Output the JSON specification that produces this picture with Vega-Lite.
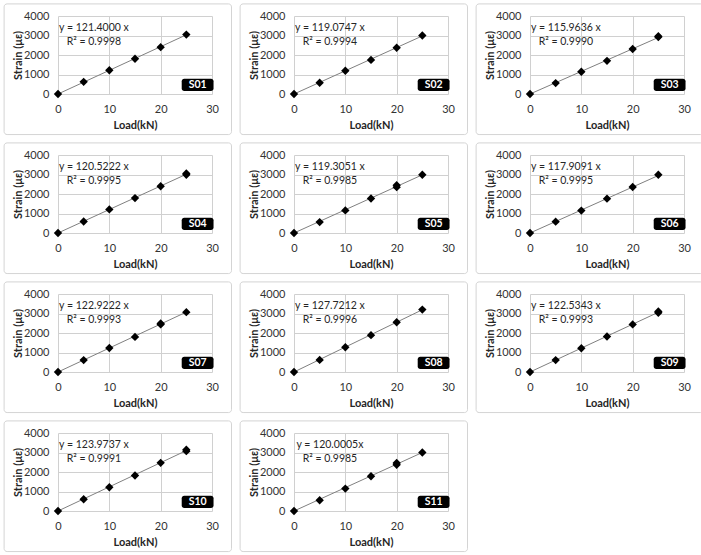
{
  "$schema": "https://vega.github.io/schema/vega-lite/v6.json",
  "background": "white",
  "padding": {"left": 3, "top": 3, "right": 0, "bottom": 0},
  "bounds": "flush",
  "spacing": {"row": 61, "column": 82},
  "columns": 3,
  "data": {"values": [
    {"s":"S01","x":0,"y":0},{"s":"S01","x":5,"y":625},{"s":"S01","x":10,"y":1218},{"s":"S01","x":15,"y":1807},{"s":"S01","x":20,"y":2401},{"s":"S01","x":25,"y":3046},
    {"s":"S01","x":0,"f":0},{"s":"S01","x":25,"f":3035},
    {"s":"S01","eq":"y = 121.4000 x","r2":"R² = 0.9998"},
    {"s":"S02","x":0,"y":0},{"s":"S02","x":5,"y":575},{"s":"S02","x":10,"y":1190},{"s":"S02","x":15,"y":1750},{"s":"S02","x":20,"y":2370},{"s":"S02","x":25,"y":3000},
    {"s":"S02","x":0,"f":0},{"s":"S02","x":25,"f":2977},
    {"s":"S02","eq":"y = 119.0747 x","r2":"R² = 0.9994"},
    {"s":"S03","x":0,"y":0},{"s":"S03","x":5,"y":560},{"s":"S03","x":10,"y":1140},{"s":"S03","x":15,"y":1700},{"s":"S03","x":20,"y":2310},{"s":"S03","x":25,"y":2920},{"s":"S03","x":25,"y":2960},
    {"s":"S03","x":0,"f":0},{"s":"S03","x":25,"f":2899},
    {"s":"S03","eq":"y = 115.9636 x","r2":"R² = 0.9990"},
    {"s":"S04","x":0,"y":0},{"s":"S04","x":5,"y":590},{"s":"S04","x":10,"y":1210},{"s":"S04","x":15,"y":1790},{"s":"S04","x":20,"y":2400},{"s":"S04","x":25,"y":2990},{"s":"S04","x":25,"y":3050},
    {"s":"S04","x":0,"f":0},{"s":"S04","x":25,"f":3013},
    {"s":"S04","eq":"y = 120.5222 x","r2":"R² = 0.9995"},
    {"s":"S05","x":0,"y":0},{"s":"S05","x":5,"y":560},{"s":"S05","x":10,"y":1160},{"s":"S05","x":15,"y":1770},{"s":"S05","x":20,"y":2350},{"s":"S05","x":20,"y":2450},{"s":"S05","x":25,"y":2990},
    {"s":"S05","x":0,"f":0},{"s":"S05","x":25,"f":2983},
    {"s":"S05","eq":"y = 119.3051 x","r2":"R² = 0.9985"},
    {"s":"S06","x":0,"y":0},{"s":"S06","x":5,"y":580},{"s":"S06","x":10,"y":1150},{"s":"S06","x":15,"y":1760},{"s":"S06","x":20,"y":2360},{"s":"S06","x":25,"y":2990},
    {"s":"S06","x":0,"f":0},{"s":"S06","x":25,"f":2948},
    {"s":"S06","eq":"y = 117.9091 x","r2":"R² = 0.9995"},
    {"s":"S07","x":0,"y":0},{"s":"S07","x":5,"y":610},{"s":"S07","x":10,"y":1230},{"s":"S07","x":15,"y":1800},{"s":"S07","x":20,"y":2440},{"s":"S07","x":20,"y":2490},{"s":"S07","x":25,"y":3070},
    {"s":"S07","x":0,"f":0},{"s":"S07","x":25,"f":3073},
    {"s":"S07","eq":"y = 122.9222 x","r2":"R² = 0.9993"},
    {"s":"S08","x":0,"y":0},{"s":"S08","x":5,"y":620},{"s":"S08","x":10,"y":1270},{"s":"S08","x":15,"y":1890},{"s":"S08","x":20,"y":2550},{"s":"S08","x":25,"y":3200},
    {"s":"S08","x":0,"f":0},{"s":"S08","x":25,"f":3193},
    {"s":"S08","eq":"y = 127.7212 x","r2":"R² = 0.9996"},
    {"s":"S09","x":0,"y":0},{"s":"S09","x":5,"y":610},{"s":"S09","x":10,"y":1220},{"s":"S09","x":15,"y":1820},{"s":"S09","x":20,"y":2440},{"s":"S09","x":25,"y":3040},{"s":"S09","x":25,"y":3100},
    {"s":"S09","x":0,"f":0},{"s":"S09","x":25,"f":3063},
    {"s":"S09","eq":"y = 122.5343 x","r2":"R² = 0.9993"},
    {"s":"S10","x":0,"y":0},{"s":"S10","x":5,"y":600},{"s":"S10","x":10,"y":1220},{"s":"S10","x":15,"y":1820},{"s":"S10","x":20,"y":2470},{"s":"S10","x":25,"y":3070},{"s":"S10","x":25,"y":3140},
    {"s":"S10","x":0,"f":0},{"s":"S10","x":25,"f":3099},
    {"s":"S10","eq":"y = 123.9737 x","r2":"R² = 0.9991"},
    {"s":"S11","x":0,"y":0},{"s":"S11","x":5,"y":550},{"s":"S11","x":10,"y":1150},{"s":"S11","x":15,"y":1780},{"s":"S11","x":20,"y":2370},{"s":"S11","x":20,"y":2460},{"s":"S11","x":25,"y":3000},
    {"s":"S11","x":0,"f":0},{"s":"S11","x":25,"f":3000},
    {"s":"S11","eq":"y = 120.0005x","r2":"R² = 0.9985"}
  ]},
  "facet": {"field": "s", "type": "nominal", "title": null, "header": {"labelExpr": "''", "labelFontSize": 0, "labelPadding": 0, "labels": false, "title": null}},
  "resolve": {"axis": {"x": "independent", "y": "independent"}},
  "spec": {
    "width": 154,
    "height": 78,
    "encoding": {
      "x": {"type": "quantitative", "scale": {"domain": [0, 30]},
            "axis": {"title": "Load(kN)", "values": [0, 10, 20, 30], "format": "d"}},
      "y": {"type": "quantitative", "scale": {"domain": [0, 4000]},
            "axis": {"title": "Strain (με)", "values": [0, 1000, 2000, 3000, 4000], "format": "d"}}
    },
    "layer": [
      {
        "transform": [{"filter": "isValid(datum.eq)"}],
        "mark": {"type": "rect", "filled": false, "fill": null, "stroke": "#d4d4d4", "strokeWidth": 1, "cornerRadius": 3, "clip": false},
        "encoding": {"x": {"datum": -10.5}, "x2": {"datum": 33.8}, "y": {"datum": 4620}, "y2": {"datum": -2080}}
      },
      {
        "transform": [{"filter": "isValid(datum.f)"}],
        "mark": {"type": "line", "color": "#808080", "strokeWidth": 1},
        "encoding": {"x": {"field": "x", "type": "quantitative"}, "y": {"field": "f", "type": "quantitative"}}
      },
      {
        "transform": [{"filter": "isValid(datum.y)"}],
        "mark": {"type": "point", "shape": "diamond", "filled": true, "color": "black", "opacity": 1, "size": 70},
        "encoding": {"x": {"field": "x", "type": "quantitative"}, "y": {"field": "y", "type": "quantitative"}}
      },
      {
        "transform": [{"filter": "isValid(datum.eq)"}],
        "mark": {"type": "text", "font": "Lato", "fontSize": 10.5, "color": "#262626", "align": "center", "baseline": "middle"},
        "encoding": {"x": {"datum": 7}, "y": {"datum": 3400}, "text": {"field": "eq"}}
      },
      {
        "transform": [{"filter": "isValid(datum.eq)"}],
        "mark": {"type": "text", "font": "Lato", "fontSize": 10.5, "color": "#262626", "align": "center", "baseline": "middle"},
        "encoding": {"x": {"datum": 7}, "y": {"datum": 2680}, "text": {"field": "r2"}}
      },
      {
        "transform": [{"filter": "isValid(datum.eq)"}],
        "mark": {"type": "rect", "color": "black", "cornerRadius": 2.5, "clip": false},
        "encoding": {"x": {"datum": 24.1}, "x2": {"datum": 30.3}, "y": {"datum": 160}, "y2": {"datum": 780}}
      },
      {
        "transform": [{"filter": "isValid(datum.eq)"}],
        "mark": {"type": "text", "font": "Lato", "fontSize": 10.5, "fontWeight": "bold", "color": "white", "align": "center", "baseline": "middle"},
        "encoding": {"x": {"datum": 27.2}, "y": {"datum": 460}, "text": {"field": "s"}}
      }
    ]
  },
  "config": {
    "font": "Lato",
    "view": {"stroke": null},
    "header": {"labels": false, "title": null, "labelPadding": 0, "titlePadding": 0},
    "headerFacet": {"labels": false, "title": null, "labelPadding": 0, "titlePadding": 0},
    "axis": {
      "domain": false,
      "ticks": false,
      "grid": true,
      "gridColor": "#d0d0d0",
      "gridWidth": 1,
      "labelFlush": false,
      "labelOverlap": false,
      "labelFont": "Lato",
      "labelFontSize": 11,
      "labelColor": "#333333",
      "titleFont": "Lato",
      "titleFontSize": 11,
      "titleFontWeight": "bold",
      "titleColor": "#262626"
    },
    "axisY": {"labelPadding": 9, "titlePadding": 0},
    "axisX": {"labelPadding": 9, "titlePadding": 5}
  }
}
